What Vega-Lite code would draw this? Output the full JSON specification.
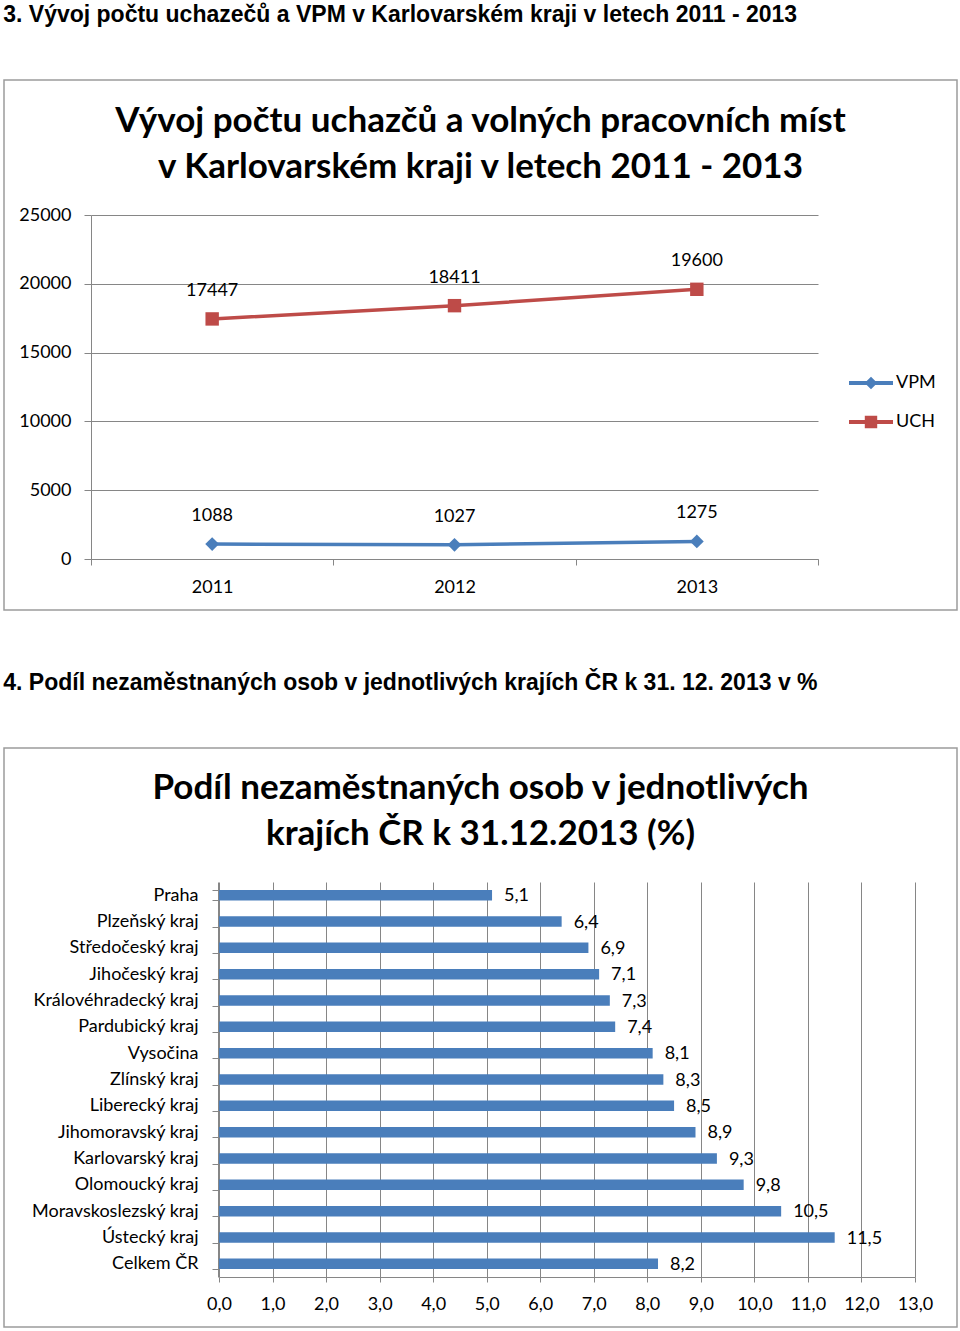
{
  "$schema": "https://vega.github.io/schema/vega-lite/v6.json",
  "background": "white",
  "padding": {"left": 3, "top": 4, "right": 0, "bottom": 0},
  "config": {
    "font": "Lato",
    "view": {"stroke": "#9c9c9c", "strokeWidth": 1.5},
    "locale": {"number": {"decimal": ",", "thousands": "\u00a0", "grouping": [3], "currency": ["", " Kč"]}},
    "axis": {"labelFont": "Lato", "labelFontSize": 18, "labelColor": "#000000", "domainColor": "#868686", "tickColor": "#868686", "gridColor": "#868686", "gridOpacity": 1, "domainWidth": 1, "tickWidth": 1, "gridWidth": 1},
    "text": {"font": "Lato", "fontSize": 18, "color": "#000000"}
  },
  "title": {"text": "3. Vývoj počtu uchazečů a VPM v Karlovarském kraji v letech 2011 - 2013", "anchor": "start", "font": "Liberation Sans", "fontSize": 23, "fontWeight": "bold", "color": "#000000", "offset": 52},
  "spacing": 61,
  "vconcat": [
    {
      "width": 953,
      "height": 530,
      "title": {"text": ["Vývoj počtu uchazčů a volných pracovních míst", "v Karlovarském kraji v letech 2011 - 2013"], "font": "Lato", "fontSize": 35, "fontWeight": "bold", "lineHeight": 46, "anchor": "middle", "frame": "group", "offset": -105, "color": "#000000"},
      "data": {"values": [
        {"year": "2011", "series": "VPM", "value": 1088},
        {"year": "2012", "series": "VPM", "value": 1027},
        {"year": "2013", "series": "VPM", "value": 1275},
        {"year": "2011", "series": "UCH", "value": 17447},
        {"year": "2012", "series": "UCH", "value": 18411},
        {"year": "2013", "series": "UCH", "value": 19600}
      ]},
      "encoding": {
        "x": {"field": "year", "type": "ordinal", "bandPosition": 0.5,
          "scale": {"type": "band", "range": [87, 814], "paddingInner": 0, "paddingOuter": 0},
          "axis": {"title": null, "orient": "bottom", "offset": -51, "tickBand": "extent", "tickSize": 6, "labelPadding": 13, "labelAngle": 0, "grid": false}},
        "y": {"field": "value", "type": "quantitative",
          "scale": {"domain": [0, 25000], "range": [479, 135], "nice": false},
          "axis": {"title": null, "orient": "left", "offset": -87, "values": [0, 5000, 10000, 15000, 20000, 25000], "format": "d", "tickSize": 7, "labelPadding": 13, "grid": true}},
        "color": {"field": "series", "type": "nominal", "scale": {"domain": ["VPM", "UCH"], "range": ["#4A7EBB", "#BE4B48"]}, "legend": null}
      },
      "layer": [
        {
          "transform": [{"filter": "false"}],
          "mark": {"type": "point", "filled": true, "opacity": 1},
          "encoding": {
            "color": {"field": "series", "type": "nominal", "scale": {"domain": ["VPM", "UCH"], "range": ["#4A7EBB", "#BE4B48"]},
              "legend": {"title": null, "orient": "none", "legendX": 848, "legendY": 284, "symbolSize": 1414, "symbolStrokeWidth": 0, "symbolOpacity": 1, "labelFont": "Lato", "labelFontSize": 18, "labelColor": "#000000", "labelOffset": 6, "rowPadding": 11, "padding": 0}},
            "shape": {"field": "series", "type": "nominal",
              "scale": {"domain": ["VPM", "UCH"], "range": ["M-1.17,-0.106H1.17V0.106H-1.17Z M-0.335,0L0,-0.335L0.335,0L0,0.335Z", "M-1.17,-0.106H1.17V0.106H-1.17Z M-0.33,-0.33H0.33V0.33H-0.33Z"]},
              "legend": {"title": null, "orient": "none", "legendX": 848, "legendY": 284, "symbolSize": 1414, "symbolStrokeWidth": 0, "symbolOpacity": 1, "labelFont": "Lato", "labelFontSize": 18, "labelColor": "#000000", "labelOffset": 6, "rowPadding": 11, "padding": 0}}
          }
        },
        {"mark": {"type": "line", "strokeWidth": 3.5}},
        {
          "mark": {"type": "point", "filled": true, "opacity": 1, "strokeWidth": 0},
          "encoding": {
            "shape": {"condition": {"test": "datum.series === 'VPM'", "value": "diamond"}, "value": "square"},
            "size": {"condition": {"test": "datum.series === 'VPM'", "value": 190}, "value": 180}
          }
        },
        {
          "mark": {"type": "text", "dy": -28, "baseline": "middle", "fontSize": 18},
          "encoding": {
            "text": {"field": "value", "type": "quantitative", "format": "d"},
            "color": {"value": "#000000"}
          }
        }
      ]
    },
    {
      "title": {"text": "4. Podíl nezaměstnaných osob v jednotlivých krajích ČR k 31. 12. 2013 v %", "anchor": "start", "font": "Liberation Sans", "fontSize": 23, "fontWeight": "bold", "color": "#000000", "offset": 43},
      "vconcat": [
        {
          "width": 953,
          "height": 579,
          "title": {"text": ["Podíl nezaměstnaných osob v jednotlivých", "krajích ČR k 31.12.2013 (%)"], "font": "Lato", "fontSize": 35, "fontWeight": "bold", "lineHeight": 46, "anchor": "middle", "frame": "group", "offset": -113, "color": "#000000"},
          "data": {"values": [
            {"kraj": "Praha", "podil": 5.1},
            {"kraj": "Plzeňský kraj", "podil": 6.4},
            {"kraj": "Středočeský kraj", "podil": 6.9},
            {"kraj": "Jihočeský kraj", "podil": 7.1},
            {"kraj": "Královéhradecký kraj", "podil": 7.3},
            {"kraj": "Pardubický kraj", "podil": 7.4},
            {"kraj": "Vysočina", "podil": 8.1},
            {"kraj": "Zlínský kraj", "podil": 8.3},
            {"kraj": "Liberecký kraj", "podil": 8.5},
            {"kraj": "Jihomoravský kraj", "podil": 8.9},
            {"kraj": "Karlovarský kraj", "podil": 9.3},
            {"kraj": "Olomoucký kraj", "podil": 9.8},
            {"kraj": "Moravskoslezský kraj", "podil": 10.5},
            {"kraj": "Ústecký kraj", "podil": 11.5},
            {"kraj": "Celkem ČR", "podil": 8.2}
          ]},
          "encoding": {
            "y": {"field": "kraj", "type": "nominal", "sort": null,
              "scale": {"range": [134, 529], "paddingInner": 0.6, "paddingOuter": 0.3},
              "axis": {"title": null, "orient": "left", "offset": -214, "tickBand": "extent", "tickSize": 6, "labelPadding": 14, "grid": false}},
            "x": {"field": "podil", "type": "quantitative",
              "scale": {"domain": [0, 13], "range": [215, 911], "nice": false},
              "axis": {"title": null, "orient": "top", "offset": -529, "values": [0, 1, 2, 3, 4, 5, 6, 7, 8, 9, 10, 11, 12, 13], "format": ".1f", "tickSize": -5, "labelPadding": -13, "labelBaseline": "top", "labelFlush": false, "grid": true}}
          },
          "layer": [
            {"mark": {"type": "bar", "color": "#4A7EBB"}},
            {
              "mark": {"type": "text", "align": "left", "baseline": "middle", "dx": 12, "dy": 1, "fontSize": 18},
              "encoding": {"text": {"field": "podil", "type": "quantitative", "format": ".1f"}}
            }
          ]
        }
      ]
    }
  ]
}
